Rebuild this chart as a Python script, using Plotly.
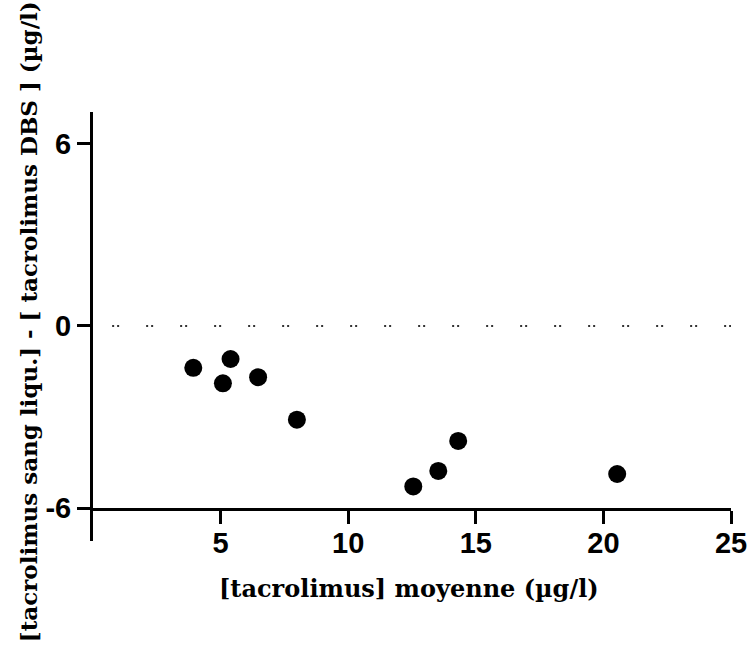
import plotly.graph_objects as go

# Data
mean_conc = [3.93, 5.09, 5.39, 6.47, 7.99, 12.55, 13.53, 14.31, 20.54]
difference = [-1.38, -1.89, -1.09, -1.69, -3.09, -5.29, -4.78, -3.79, -4.88]
x_ticks = [5, 10, 15, 20, 25]
y_ticks = [-6, 0, 6]
x_title = "[tacrolimus] moyenne (µg/l)"
y_title = "[tacrolimus sang liqu.] - [ tacrolimus DBS ] (µg/l)"

K = 0.987  # observed horizontal scale of the photographed page
W, H = round(749 / K), 645
L, T, B = round(92 / K), 112, 137
R = W - L - round((730 - 92) / K)
PW, PH = W - L - R, H - T - B

fig = go.Figure()
fig.add_trace(go.Scatter(
    x=mean_conc, y=difference, mode="markers",
    marker=dict(color="black", size=18, line=dict(width=0)),
    showlegend=False, cliponaxis=False, hoverinfo="skip",
))

tickfont = dict(family="Liberation Sans, Arial", size=29, color="black")

fig.update_layout(
    width=W, height=H,
    margin=dict(l=L, r=R, t=T, b=B, pad=0),
    plot_bgcolor="white", paper_bgcolor="white",
    xaxis=dict(range=[0, 25], tickvals=x_ticks, ticktext=[f"<b>{v}</b>" for v in x_ticks],
               showgrid=False, zeroline=False, showline=True, linecolor="black", linewidth=3,
               ticks="outside", ticklen=13, tickwidth=3, tickcolor="black",
               tickfont=tickfont, ticklabelstandoff=-6),
    yaxis=dict(range=[-6, 7.05], tickvals=y_ticks, ticktext=[f"<b>{v}</b>" for v in y_ticks],
               showgrid=False, zeroline=False, showline=True, linecolor="black", linewidth=3,
               ticks="outside", ticklen=13, tickwidth=3, tickcolor="black",
               tickfont=tickfont),
    shapes=[
        # dotted zero line
        dict(type="line", xref="x", yref="y", x0=0.75, x1=25, y0=0, y1=0,
             line=dict(color="#333333", width=2, dash="2px,3px,2px,27px")),
        # y-axis extension below the x axis
        dict(type="line", xref="paper", yref="paper", x0=-1.5 / PW, x1=-1.5 / PW,
             y0=0, y1=-33 / PH, line=dict(color="black", width=3)),
    ],
    annotations=[
        dict(text=f"<b>{x_title}</b>", xref="paper", yref="paper",
             x=(408 / K - L) / PW, y=-(588 - (H - B)) / PH,
             xanchor="center", yanchor="middle", showarrow=False,
             font=dict(family="DejaVu Serif", size=24, color="black")),
        dict(text=f"<b>{y_title}</b>", xref="paper", yref="paper", textangle=-90,
             x=-(L - 27 / K) / PW, y=(H - B - 322) / PH,
             xanchor="center", yanchor="middle", showarrow=False,
             font=dict(family="DejaVu Serif", size=23, color="black")),
    ],
)

fig.write_html(
    "out.html",
    config={"displayModeBar": False, "staticPlot": True},
    post_script="document.body.style.margin='0';document.body.style.overflow='hidden';",
)
